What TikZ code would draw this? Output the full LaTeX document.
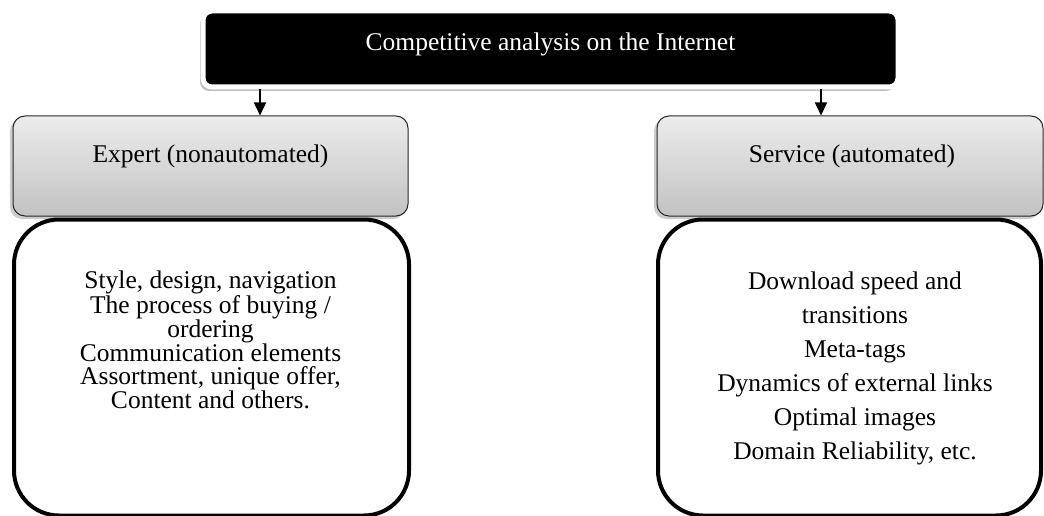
\documentclass[tikz,border=0pt]{standalone}
\usepackage{fontspec}
\setmainfont{Liberation Serif}
\usetikzlibrary{shadows,arrows.meta}
\definecolor{graytop}{RGB}{236,236,236}
\definecolor{graybot}{RGB}{194,194,194}
\begin{document}
\begin{tikzpicture}[x=1pt,y=-1pt,
  topbox/.style={draw=white, line width=5pt, fill=black, rounded corners=9pt,
    drop shadow={shadow xshift=-3pt,shadow yshift=-4pt,opacity=0.25,fill=black}},
  graybox/.style={draw=black!85, line width=1pt, rounded corners=12pt,
    top color=graytop, bottom color=graybot,
    drop shadow={shadow xshift=-3pt,shadow yshift=-3pt,opacity=0.2,fill=black}},
  listbox/.style={draw=black, line width=4pt, rounded corners=45pt, fill=white},
  lbl/.style={font=\fontsize{25.5}{23}\selectfont, align=center, inner sep=0pt},
  lblwide/.style={font=\fontsize{25.5}{34}\selectfont, align=center, inner sep=0pt},
  arr/.style={-{Triangle[length=13pt,width=12pt]}, line width=1.5pt}]
\useasboundingbox (0,0) rectangle (1044,516);
\fill[white] (0,0) rectangle (1044,516);

% top box
\node[topbox, minimum width=695pt, minimum height=76pt, inner sep=0pt] (top) at (550.5,49) {};
\node[lbl, text=white] (title) at (550.5,44) {Competitive analysis on the Internet};

% gray boxes
\node[graybox, minimum width=395pt, minimum height=100pt, inner sep=0pt] (expert) at (210.5,166) {};
\node[lbl] (expertlbl) at (210.5,156) {Expert (nonautomated)};
\node[graybox, minimum width=386pt, minimum height=100pt, inner sep=0pt] (service) at (850,166) {};
\node[lbl] (servicelbl) at (852,156) {Service (automated)};

% list boxes
\node[listbox, minimum width=395pt, minimum height=296pt, inner sep=0pt] (left) at (211.5,367.5) {};
\node[lbl] (leftlbl) at (210.5,340) {Style, design, navigation\\The process of buying /\\ordering\\Communication elements\\Assortment, unique offer,\\Content and others.};
\node[listbox, minimum width=383pt, minimum height=296pt, inner sep=0pt] (right) at (849.5,367.5) {};
\node[lblwide] (rightlbl) at (855,368) {Download speed and\\transitions\\Meta-tags\\Dynamics of external links\\Optimal images\\Domain Reliability, etc.};

% arrows
\draw[arr] (top.south -| 260,0) -- (expert.north -| 260,0);
\draw[arr] (top.south -| 821,0) -- (service.north -| 821,0);
\end{tikzpicture}
\end{document}
